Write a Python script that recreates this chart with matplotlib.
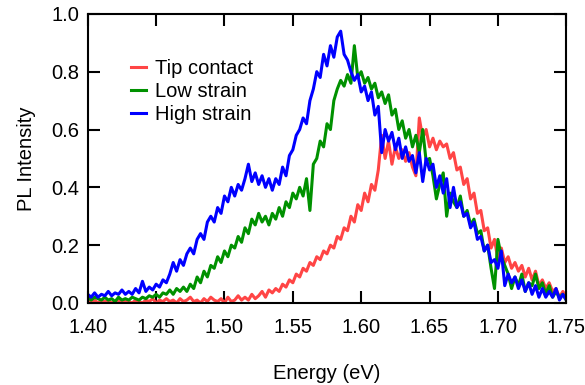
# PL spectra: tip contact vs low / high strain
import numpy as np
import matplotlib
matplotlib.use('Agg')
import matplotlib.pyplot as plt

# %%
# Data (step 0.0025 eV, 1.40 - 1.75 eV)
energy = np.round(np.arange(1.40, 1.75001, 0.0025), 4)

tip_contact = [
    0.01, 0.005, 0.01, 0.0, 0.01, 0.005, 0.01, 0.0, 0.005, 0.01,
    0.0, 0.01, 0.005, 0.0, 0.01, 0.005, 0.0, 0.01, 0.005, 0.015,
    0.0, 0.01, 0.005, 0.015, 0.005, 0.01, 0.0, 0.015, 0.005, 0.01,
    0.02, 0.005, 0.01, 0.0, 0.015, 0.005, 0.02, 0.01, 0.005, 0.015,
    0.0, 0.02, 0.005, 0.01, 0.025, 0.01, 0.02, 0.01, 0.03, 0.015,
    0.025, 0.04, 0.02, 0.045, 0.035, 0.05, 0.04, 0.065, 0.055, 0.08,
    0.07, 0.10, 0.09, 0.12, 0.11, 0.14, 0.13, 0.16, 0.15, 0.18,
    0.17, 0.20, 0.19, 0.23, 0.22, 0.26, 0.25, 0.30, 0.28, 0.34,
    0.32, 0.38, 0.35, 0.41, 0.39, 0.46, 0.58, 0.50, 0.56, 0.48,
    0.54, 0.50, 0.53, 0.49, 0.52, 0.47, 0.44, 0.64, 0.57, 0.60,
    0.54, 0.57, 0.53, 0.56, 0.54, 0.55, 0.50, 0.52, 0.46, 0.47,
    0.41, 0.43, 0.36, 0.38, 0.31, 0.32, 0.25, 0.26, 0.19, 0.22,
    0.15, 0.19, 0.14, 0.16, 0.12, 0.14, 0.11, 0.13, 0.09, 0.12,
    0.08, 0.11, 0.06, 0.08, 0.05, 0.07, 0.04, 0.05, 0.02, 0.04,
    0.02]

low_strain = [
    0.02, 0.01, 0.02, 0.015, 0.01, 0.02, 0.01, 0.015, 0.005, 0.02,
    0.01, 0.015, 0.01, 0.02, 0.015, 0.01, 0.02, 0.015, 0.025, 0.02,
    0.03, 0.02, 0.035, 0.03, 0.045, 0.03, 0.05, 0.04, 0.055, 0.04,
    0.065, 0.05, 0.09, 0.07, 0.11, 0.09, 0.13, 0.12, 0.16, 0.14,
    0.18, 0.16, 0.20, 0.19, 0.23, 0.21, 0.26, 0.24, 0.29, 0.27,
    0.31, 0.28, 0.30, 0.27, 0.31, 0.29, 0.33, 0.30, 0.35, 0.33,
    0.38, 0.36, 0.40, 0.37, 0.43, 0.32, 0.48, 0.50, 0.56, 0.54,
    0.62, 0.60, 0.70, 0.74, 0.77, 0.75, 0.79, 0.76, 0.89, 0.78,
    0.80, 0.76, 0.78, 0.74, 0.76, 0.71, 0.73, 0.69, 0.72, 0.65,
    0.67, 0.60, 0.63, 0.57, 0.60, 0.54, 0.58, 0.52, 0.60, 0.49,
    0.50, 0.44, 0.36, 0.41, 0.45, 0.30, 0.38, 0.35, 0.33, 0.37,
    0.30, 0.32, 0.27, 0.29, 0.24, 0.25, 0.18, 0.20, 0.12, 0.05,
    0.22, 0.16, 0.13, 0.10, 0.05, 0.09, 0.06, 0.10, 0.04, 0.07,
    0.06, 0.10, 0.05, 0.07, 0.03, 0.06, 0.02, 0.04, 0.02, 0.03,
    0.01]

high_strain = [
    0.03, 0.02, 0.035, 0.02, 0.03, 0.025, 0.04, 0.025, 0.035, 0.03,
    0.045, 0.03, 0.04, 0.03, 0.05, 0.035, 0.075, 0.04, 0.055, 0.045,
    0.065, 0.055, 0.08, 0.07, 0.10, 0.14, 0.11, 0.15, 0.13, 0.17,
    0.19, 0.17, 0.22, 0.24, 0.22, 0.28, 0.30, 0.28, 0.33, 0.31,
    0.37, 0.35, 0.40, 0.37, 0.41, 0.39, 0.43, 0.48, 0.42, 0.45,
    0.41, 0.44, 0.40, 0.43, 0.39, 0.43, 0.41, 0.47, 0.44, 0.51,
    0.53, 0.58, 0.60, 0.64, 0.62, 0.70, 0.74, 0.80, 0.78, 0.86,
    0.82, 0.89, 0.85, 0.92, 0.94, 0.86, 0.84, 0.80, 0.77, 0.79,
    0.73, 0.75, 0.70, 0.73, 0.65, 0.68, 0.52, 0.60, 0.56, 0.59,
    0.53, 0.57, 0.50, 0.54, 0.49, 0.51, 0.45, 0.52, 0.42, 0.50,
    0.46, 0.48, 0.40, 0.44, 0.38, 0.43, 0.33, 0.40, 0.33, 0.35,
    0.30, 0.31, 0.26, 0.28, 0.22, 0.23, 0.18, 0.20, 0.14, 0.15,
    0.12, 0.18, 0.06, 0.10, 0.07, 0.09, 0.05, 0.08, 0.04, 0.07,
    0.03, 0.06, 0.02, 0.05, 0.02, 0.04, 0.02, 0.05, 0.01, 0.03,
    0.01]

series = [('Tip contact', tip_contact, '#ff4545'),
          ('Low strain', low_strain, '#009100'),
          ('High strain', high_strain, '#0000ff')]

# %%
plt.rcParams['font.family'] = ['Liberation Sans', 'DejaVu Sans']
fs = 14.5

fig = plt.figure(figsize=(5.85, 3.85), dpi=100)
ax = fig.add_axes([0.150, 0.213, 0.818, 0.751])

for name, vals, col in series:
    ax.plot(energy, vals, color=col, lw=2.2, label=name)

ax.set_xlim(1.40, 1.75)
ax.set_ylim(0.0, 1.0)
ax.set_xticks(np.arange(1.40, 1.751, 0.05))
ax.set_yticks(np.arange(0.0, 1.01, 0.2))
ax.xaxis.set_major_formatter(matplotlib.ticker.FormatStrFormatter('%.2f'))
ax.yaxis.set_major_formatter(matplotlib.ticker.FormatStrFormatter('%.1f'))
ax.tick_params(direction='in', length=8.5, width=1.5, top=True, right=True,
               labelsize=fs)
ax.tick_params(axis='x', pad=11)
ax.tick_params(axis='y', pad=6)
for sp in ax.spines.values():
    sp.set_linewidth(1.5)

ax.set_xlabel('Energy (eV)', fontsize=fs, labelpad=19)
ax.set_ylabel('PL Intensity', fontsize=fs, labelpad=11)

ax.legend(loc='upper left', bbox_to_anchor=(0.09, 0.845), frameon=False,
          fontsize=fs, handlelength=0.75, handletextpad=0.45,
          labelspacing=0.2, borderpad=0, borderaxespad=0)

fig.savefig('out.png', dpi=100)
